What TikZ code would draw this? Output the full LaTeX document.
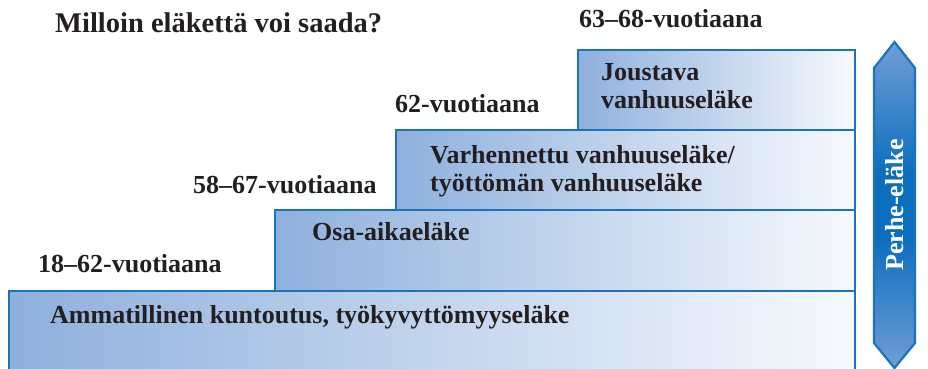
\documentclass[tikz,border=0pt]{standalone}
\usepackage{fontspec}
\setmainfont{Liberation Serif}
\usepackage{xcolor}
\definecolor{boxline}{HTML}{1B73BA}
\definecolor{boxleft}{HTML}{8EB0DD}
\definecolor{boxright}{HTML}{F7F9FD}
\definecolor{arrowlight}{HTML}{CAD9EF}
\definecolor{arrowmid}{HTML}{6296D2}
\definecolor{arrowdark}{HTML}{0B6FBE}
\definecolor{ink}{HTML}{231F20}
\pgfdeclareverticalshading{perheshade}{100bp}{color(0bp)=(arrowlight); color(8bp)=(arrowlight); color(28bp)=(arrowmid); color(45bp)=(arrowdark); color(55bp)=(arrowdark); color(72bp)=(arrowmid); color(92bp)=(arrowlight); color(100bp)=(arrowlight)}
\tikzset{step box/.style={left color=boxleft, right color=boxright, draw=boxline, line width=2.6pt},
  label text/.style={anchor=base west, inner sep=0pt, text=ink, align=left, font=\fontsize{26}{28}\selectfont\bfseries}}

\begin{document}
\begin{tikzpicture}[x=1pt,y=-1pt]
		\useasboundingbox (0,0) rectangle (928,369);
		\clip (0,0) rectangle (928,369);
		% portaat
		\shade[step box] (9,291) rectangle (855,385);
		\shade[step box] (275,210) rectangle (855,291);
		\shade[step box] (396,130) rectangle (855,210);
		\shade[step box] (578,50) rectangle (855,130);
		% perhe-eläke
		\shade[shading=perheshade, draw=boxline, line width=2.2pt]
			(894.5,42) -- (915,68) -- (915,343) -- (894.5,368) -- (874,343) -- (874,68) -- cycle;
		\node[font=\fontsize{26}{28}\selectfont\bfseries, text=white, rotate=90, inner sep=0pt] (perhe) at (894.5,205) {Perhe-eläke};
		% otsikko ja iät
		\node[label text, font=\fontsize{28.5}{30}\selectfont\bfseries] (title) at (55,33) {Milloin eläkettä voi saada?};
		\node[label text] (age63) at (579,28) {63–68-vuotiaana};
		\node[label text] (age62) at (395,112) {62-vuotiaana};
		\node[label text] (age58) at (193,193) {58–67-vuotiaana};
		\node[label text] (age18) at (38,272) {18–62-vuotiaana};
		% eläkkeet
		\node[label text] (joustava) at (601,108) {Joustava\\vanhuuseläke};
		\node[label text] (varhennettu) at (430,191) {Varhennettu vanhuuseläke/\\työttömän vanhuuseläke};
		\node[label text] (osaaika) at (312,240) {Osa-aikaeläke};
		\node[label text] (kuntoutus) at (50,323) {Ammatillinen kuntoutus, työkyvyttömyyseläke};
\end{tikzpicture}
\end{document}
